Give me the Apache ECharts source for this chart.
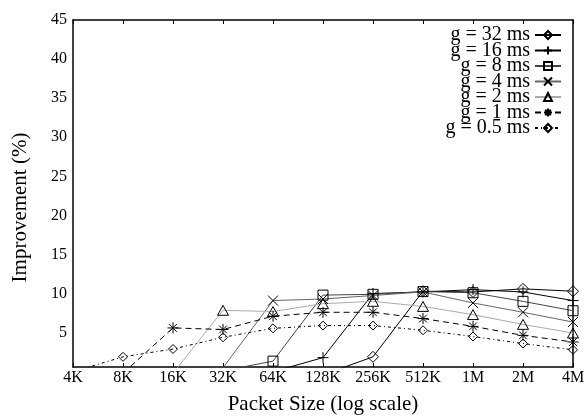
<!DOCTYPE html>
<html>
<head>
<meta charset="utf-8">
<script src="https://cdn.jsdelivr.net/npm/echarts@6/dist/echarts.min.js"></script>
<style>
  html, body { margin: 0; padding: 0; background: #fff; }
  #chart { width: 586px; height: 416px; }
</style>
</head>
<body>
<div id="chart"></div>
<script>
// packet sizes on a log2 axis
var sizes = ['4K', '8K', '16K', '32K', '64K', '128K', '256K', '512K', '1M', '2M', '4M'];
var yTicks = [5, 10, 15, 20, 25, 30, 35, 40, 45];

// improvement (%) per gap setting; values below the axis are clipped like the original
var g32 = [null, null, null, null, null, -0.4, 1.9, 10.3, 10.2, 10.6, 10.3];
var g16 = [null, null, null, null, 0, 1.8, 10.0, 10.2, 10.5, 10.2, 9.1];
var g8 = [null, null, null, 0.1, 1.35, 9.8, 9.9, 10.25, 10.1, 9.0, 7.8];
var g4 = [null, null, null, 0.5, 9.1, 9.3, 9.75, 10.2, 8.8, 7.6, 6.35];
var g2 = [null, null, -0.2, 7.85, 7.7, 8.7, 9.0, 8.35, 7.3, 6.05, 4.95];
var g1 = [null, -0.2, 5.6, 5.4, 7.1, 7.6, 7.6, 6.8, 5.8, 4.65, 3.8];
var g05 = [0, 1.9, 2.9, 4.4, 5.55, 5.9, 5.9, 5.3, 4.5, 3.6, 2.8];

var font = "'Liberation Serif', 'DejaVu Serif', serif";
// gnuplot-like open point types
var diamond = 'path://M5,0L10,5L5,10L0,5Z';
var square = 'path://M0,0L10,0L10,10L0,10Z';
var triangle = 'path://M5,0L10,9L0,9Z';
var plus = 'path://M5,0L5,10M0,5L10,5';
var cross = 'path://M0,0L10,10M10,0L0,10';
var star = 'path://M5,0L5,10M0,5L10,5M1.5,1.5L8.5,8.5M8.5,1.5L1.5,8.5';

function mk(name, data, symbol, size, color, dash) {
  return {
    name: name,
    type: 'line',
    data: data,
    symbol: symbol,
    symbolSize: size,
    symbolKeepAspect: true,
    showSymbol: true,
    clip: true,
    lineStyle: { color: color, width: 1, type: dash || 'solid' },
    itemStyle: { color: 'rgba(0,0,0,0)', borderColor: '#000', borderWidth: 1 }
  };
}

var chart = echarts.init(document.getElementById('chart'), null, { renderer: 'canvas' });
chart.setOption({
  animation: false,
  backgroundColor: '#fff',
  textStyle: { fontFamily: font, color: '#000' },
  grid: { left: 73, right: 13, top: 20, bottom: 49, outerBoundsMode: 'none' },
  legend: {
    right: 19,
    top: 20,
    orient: 'vertical',
    align: 'right',
    itemWidth: 26,
    itemHeight: 10,
    itemGap: -4.5,
    textStyle: { fontFamily: font, fontSize: 20, color: '#000' },
    data: ['g = 32 ms', 'g = 16 ms', 'g = 8 ms', 'g = 4 ms', 'g = 2 ms', 'g = 1 ms', 'g = 0.5 ms']
  },
  xAxis: [{
    type: 'category',
    data: sizes,
    boundaryGap: false,
    name: 'Packet Size (log scale)',
    nameLocation: 'middle',
    nameGap: 27,
    nameTextStyle: { fontFamily: font, fontSize: 21, color: '#000' },
    axisLine: { lineStyle: { color: '#000', width: 1.5 } },
    axisTick: { inside: true, length: 4, lineStyle: { color: '#000' } },
    axisLabel: { fontFamily: font, fontSize: 16, color: '#000', margin: 3 }
  }, {
    type: 'category',
    data: sizes,
    boundaryGap: false,
    position: 'top',
    axisLine: { lineStyle: { color: '#000', width: 1.5 } },
    axisTick: { inside: true, length: 4, lineStyle: { color: '#000' } },
    axisLabel: { show: false }
  }],
  yAxis: [{
    type: 'value',
    min: 0.6,
    max: 45,
    name: 'Improvement (%)',
    nameLocation: 'middle',
    nameGap: 42,
    nameTextStyle: { fontFamily: font, fontSize: 21, color: '#000', padding: [0, 28, 0, 0] },
    splitLine: { show: false },
    axisLine: { show: true, lineStyle: { color: '#000', width: 1.5 } },
    axisTick: { inside: true, length: 4, customValues: yTicks, lineStyle: { color: '#000' } },
    axisLabel: { fontFamily: font, fontSize: 16, color: '#000', margin: 6, customValues: yTicks }
  }, {
    type: 'value',
    min: 0.6,
    max: 45,
    position: 'right',
    splitLine: { show: false },
    axisLine: { show: true, lineStyle: { color: '#000', width: 1.5 } },
    axisTick: { inside: true, length: 4, customValues: yTicks, lineStyle: { color: '#000' } },
    axisLabel: { show: false }
  }],
  series: [
    mk('g = 32 ms', g32, diamond, 11, '#000'),
    mk('g = 16 ms', g16, plus, 11, '#000'),
    mk('g = 8 ms', g8, square, 10, '#444'),
    mk('g = 4 ms', g4, cross, 10, '#666'),
    mk('g = 2 ms', g2, triangle, 11, '#aaa'),
    mk('g = 1 ms', g1, star, 11, '#000', [6, 4]),
    mk('g = 0.5 ms', g05, diamond, 9, '#000', [3, 3, 1, 3])
  ]
});
</script>
</body>
</html>
